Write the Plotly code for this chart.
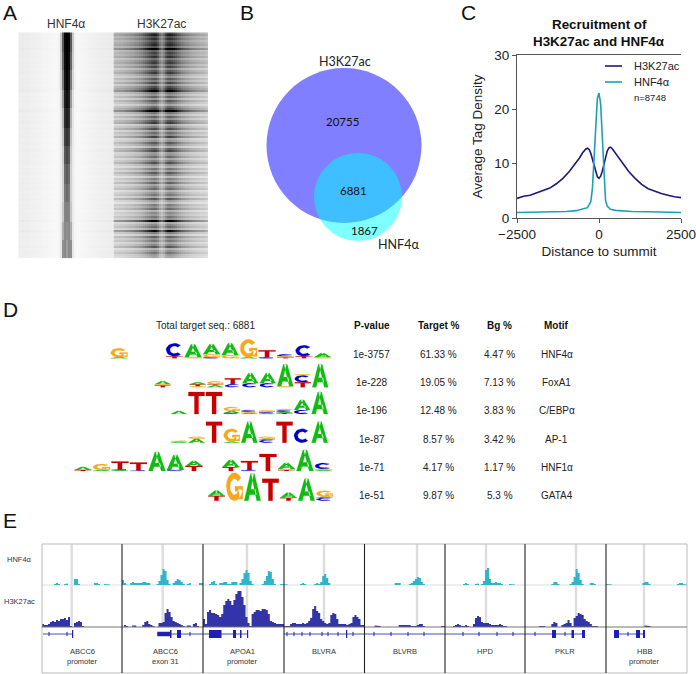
import math
import plotly.graph_objects as go

W, H = 696, 674
SANS = "Liberation Sans"

# ---------- A: heatmaps ----------
h3k_columns = [.19,.20,.20,.21,.21,.22,.23,.24,.25,.26,.27,.29,.30,.32,.34,.37,.40,.43,.46,.49,.51,.50,.44,.34,
               .29,.35,.44,.50,.51,.49,.46,.43,.39,.36,.33,.31,.29,.28,.26,.25,.24,.23,.22,.21,.20,.20,.19,.17]
row_levels = [1.3,1.5,1.25,1.4,1.2,1.35,1.45,1.2,1.75,1.15,1.3,1.2,1.4,1.05,1.25,1.35,1.1,1.3,.95,1.2,
              1.35,1.05,.9,1.2,1.0,1.3,.95,1.25,1.4,1.7,1.05,.9,1.15,.85,1.2,1.0,.8,1.1,1.3,1.8,1.05,.85,
              1.15,.9,1.2,1.35,.8,1.0,1.25,.85,1.1,.95,1.3,.8,.9,1.2,1.0,.75,1.15,1.3,.85,.9,1.1,.8,1.0,
              1.25,.9,.75,1.05,.85,1.2,.95,.7,1.0,.85,1.15,.8,.95,1.1,.75,.9,1.05,.8,1.2,.85,.7,1.0,.9,
              1.1,.75,.95,.85,1.05,.9,1.7,.8,.95,1.1,.85,1.6,1.0,.75,1.15,.9,1.05,.8,.95,1.2,.75,.9,1.05,.85,.8]
hnf_center_bands = [
    [.05,.22,.65,.97,1.0,.97,.65,.22,.05],
    [.05,.20,.60,.95,1.0,.95,.60,.20,.05],
    [.05,.16,.52,.92,.98,.92,.52,.16,.05],
    [.04,.12,.40,.88,.94,.88,.40,.12,.04],
    [.04,.10,.30,.82,.88,.82,.30,.10,.04],
    [.04,.09,.24,.74,.80,.74,.24,.09,.04],
    [.04,.08,.20,.66,.72,.66,.20,.08,.04],
    [.04,.08,.18,.58,.64,.58,.18,.08,.04],
    [.04,.08,.18,.52,.58,.52,.18,.08,.04],
    [.04,.08,.22,.48,.50,.48,.22,.08,.04],
    [.04,.09,.32,.46,.44,.46,.32,.09,.04],
    [.04,.10,.44,.46,.38,.46,.44,.10,.04],
]
hnf_side = [.07,.07,.07,.065,.065,.065,.06,.06,.055,.055,.05,.05,.045,.04,.04,.035,.035,.03,.03,.03]

# ---------- B: Venn ----------
venn_big = dict(cx=344, cy=145.5, r=77.5)
venn_small = dict(cx=358, cy=197, r=44)

# ---------- C: recruitment curves ----------
h3k_x = [-2500,-2300,-2100,-1900,-1700,-1500,-1300,-1100,-900,-800,-700,-600,-500,-400,-350,-300,-250,-200,-150,-100,-50,
         0,50,100,150,200,250,300,350,400,500,600,700,800,900,1100,1300,1500,1700,1900,2100,2300,2500]
h3k_y = [3.6,4.0,4.2,4.6,5.0,5.5,6.3,7.3,8.6,9.3,10.2,11.0,12.0,12.7,12.85,12.6,11.9,10.8,9.6,8.5,7.6,
         7.3,7.7,8.6,9.9,11.2,12.3,12.9,13.05,12.8,12.0,11.1,10.2,9.4,8.6,7.3,6.2,5.4,4.9,4.5,4.2,3.9,3.75]
hnf_x = [-2500,-2000,-1500,-1000,-700,-500,-350,-250,-200,-150,-100,-50,0,50,100,150,200,250,350,500,1000,1500,2000,2500]
hnf_y = [1.0,1.05,1.1,1.2,1.35,1.6,1.9,3.0,5.5,11,17.5,22,23,21,15,7.5,3.2,2.2,1.6,1.4,1.2,1.15,1.05,1.0]

# ---------- D: motif table and logos ----------
table_headers = ["P-value", "Target %", "Bg %", "Motif"]
p_values = ["1e-3757", "1e-228", "1e-196", "1e-87", "1e-71", "1e-51"]
target_pct = ["61.33 %", "19.05 %", "12.48 %", "8.57 %", "4.17 %", "9.87 %"]
bg_pct = ["4.47 %", "7.13 %", "3.83 %", "3.42 %", "1.17 %", "5.3 %"]
motifs = ["HNF4α", "FoxA1", "C/EBPα", "AP-1", "HNF1α", "GATA4"]

logo_hnf4 = [[("A",1),("G",9)],[],[],[("T",2),("C",13)],[("G",1),("A",13)],[("C",1),("G",3),("A",10)],
             [("G",3),("A",12)],[("A",1),("G",18)],[("C",1),("T",7)],[("T",1),("G",1),("C",2)],[("T",2),("C",11)],[("G",1),("A",4)]]
logo_foxa1 = [[("T",2),("G",1),("A",3)],[],[("G",1),("T",2),("A",2)],[("A",2),("T",1),("G",3)],[("C",3),("T",6)],
              [("C",4),("A",10)],[("C",4),("A",10)],[("G",1),("A",22)],[("T",5),("C",7),("G",1)],[("A",23)]]
logo_cebpa = [[("A",3)],[("T",22)],[("T",22)],[("C",1),("A",2),("G",4)],[("A",1),("G",1),("C",2)],[("A",1),("C",1),("G",2)],
              [("T",1),("A",1),("C",2),("G",1)],[("C",4),("A",10)],[("A",22)]]
logo_ap1 = [[("A",1),("G",1)],[("A",4),("G",2)],[("T",21)],[("A",1),("G",13)],[("A",21)],[("C",3),("A",1),("G",2)],
            [("T",21)],[("C",14)],[("A",21)]]
logo_hnf1 = [[("T",1),("A",3)],[("A",1),("G",6)],[("A",1),("C",.5),("T",8)],[("C",.5),("T",8)],[("A",19)],[("C",1),("A",15)],
             [("T",5),("A",5)],[],[("T",4),("A",7)],[("C",1),("T",9)],[("T",17)],[("T",1),("G",1),("A",6)],[("A",21)],[("A",1),("G",1),("C",6)]]
logo_gata4 = [[("T",5),("A",5)],[("G",28)],[("A",27)],[("T",22)],[("T",3),("A",5)],[("A",22)],[("C",3),("A",1),("G",6)]]
logos = [logo_hnf4, logo_foxa1, logo_cebpa, logo_ap1, logo_hnf1, logo_gata4]
logo_baselines = [358.3, 387.3, 414, 442.7, 471, 500.7]
logo_right_edges = [331.8, 329, 328.5, 328.5, 332.7, 333.5]
logo_steps = [18.5, 17.5, 17.6, 17.6, 18.5, 18.0]

# ---------- E: genome browser tracks ----------
panel_edges = [42, 122, 203, 284, 364.5, 445, 525, 606, 687]
panel_summits = [71.7, 162.7, 247, 324, 417, 486, 576, 644]
panel_labels = [["ABCC6","promoter"],["ABCC6","exon 31"],["APOA1","promoter"],["BLVRA"],["BLVRB"],["HPD"],["PKLR"],["HBB","promoter"]]
panel_label_x = [82.6, 165.7, 242.7, 324, 404.7, 485, 564.7, 644.7]

hnf_track = [
 [0,0,0,0,0,0,1,2,1,0,0,1,1.5,0,0,0,6,6,1,0,0,0,0,0,0,0,2,2,1,0,0,1,1,.5,0,0,0,0,0,0],
 [5,2,.5,0,2,3,2,2,2,2,3,3,2,2,0,0,0,1,4,10,16,14,5,1,0,2,4,6,5,3,1,0,1,2,0,0,0,0,2,2],
 [0,0,0,1,3,4,1,0,2,2,3,3,1,1,3,3,3,0,2,6,12,15,12,4,1,0,0,0,0,1,4,9,14,13,6,1,0,0,1,1],
 [.5,.5,0,0,0,0,0,0,1,2,1,0,0,0,0,1,2,1,3,9,11,7,2,0,0,0,0,0,0,0,0,0,0,0,0,0,0,0,0,0],
 [0,0,0,0,0,0,0,0,0,0,0,0,0,0,0,2,2,2,0,0,0,0,1,2,4,6,8,7,3,1,0,0,0,0,0,0,0,0,0,0],
 [.5,.5,.5,.5,0,0,0,0,0,1,2,1,0,0,0,1,1.5,0,1,4,15,17,6,2,2,3,2,2,1,0,0,0,1,.5,.5,0,0,0,0,0],
 [0,0,0,0,0,0,0,0,0,0,0,0,0,1,3,3,1,0,0,0,0,0,1,3,8,16,12,5,1,0,0,0,2,2,1,0,0,0,0,0],
 [1,1,.5,0,0,.5,.5,0,0,0,0,0,0,0,0,0,0,0,2,3,3,1,0,0,0,0,.5,.5,0,0,0,0,0,0,0,1,2,2,1,.5],
]
h3k_track = [
 [3,2,2,3,5,6,5,7,6,8,8,9,7,10,1,0,4,5,6,5,1,0,0,0,0,0,0,0,0,0,0,0,0,0,0,0,0,0,0,0],
 [0,2,1,0,0,1.5,1.5,0,0,0,2,5,6,3,2,1,0,0,4,4,5,14,18,15,10,6,5,4,3,2,1,0,1.5,1.5,0,3,4,1,0,0],
 [8,3,15,17,14,14,13,12,10,13,22,26,28,26,22,27,33,36,36,30,22,10,4,1,13,15,17,17,16,18,18,17,13,6,5,4,3,3,3,3],
 [1,1,1,3,4,4,3,3,3,4,3,4,6,9,18,21,16,14,8,6,4,3,4,12,14,13,8,3,3,3,3,2,3,4,10,12,10,8,2,2],
 [0,0,0,0,0,1.5,1.5,1,0,0,0,0,0,0,0,0,0,2,2,2,2,2,2,1,1,1,2,3,3,1,0,0,0,0,0,0,0,0,1,1],
 [0,0,0,0,1,2,3,2,1,1,2,1,0,0,3,9,11,10,5,4,4,4,3,2,2,2,2,3,2,1,1,0,0,0,0,0,0,0,0,0],
 [0,0,0,0,0,0,0,1,1,1,0,0,0,3,5,4,0,0,2,3,4,7,4,1,9,11,14,13,12,8,6,5,3,1,1,1,0,0,0,0],
 [.5,0,0,0,0,0,0,0,0,0,0,0,0,0,0,0,0,0,0,1.5,1.5,1,0,0,0,0,0,0,0,0,0,0,0,0,0,0,0,0,0,0],
]
gene_spans = [(43,72),(157,248),(284,585),(614,645)]
gene_exons_tall = [(72,73.2),(170,171.5),(177,181),(209,221.5),(233,236),(240,241.5),(247,248.2),(346,347.2),
                   (552,556),(571.5,574),(582,585),(614,619),(636,640),(643,645)]
gene_exons_mid = [(157.3,170)]
gene_ticks = [49,67,190,287,294,302,310,322,328,338,353,374,391,408,424,463,479,497,513,535,565,628]

# ---------- helpers ----------
def yd(top, bottom):
    return [1 - bottom / H, 1 - top / H]

def xd(left, right):
    return [left / W, right / W]

def ellipse_arc(a1, a2, rx, ry, n=18):
    return [(.5 + rx * math.cos(math.radians(a1 + (a2 - a1) * i / n)),
             .5 + ry * math.sin(math.radians(a1 + (a2 - a1) * i / n))) for i in range(n + 1)]

def ring(a1, a2):
    return ellipse_arc(a1, a2, .5, .5) + ellipse_arc(a2, a1, .27, .29)

GLYPHS = {
    "T": [[(0,1),(1,1),(1,.82),(.63,.82),(.63,0),(.37,0),(.37,.82),(0,.82)]],
    "A": [[(0,0),(.25,0),(.58,1),(.38,1)], [(1,0),(.75,0),(.42,1),(.62,1)], [(.25,.22),(.75,.22),(.68,.42),(.32,.42)]],
    "C": [ring(45, 315)],
    "G": [ring(40, 345), [(.53,.52),(1,.52),(1,.05),(.78,.05),(.78,.34),(.53,.34)]],
}
LETTER_COLORS = {"A": "#12BB12", "C": "#0000C8", "G": "#F5A81C", "T": "#C80000"}

fig = go.Figure()

# ---------- A traces ----------
n_rows = len(row_levels)
z_hnf, z_h3k = [], []
for r, level in enumerate(row_levels):
    band = hnf_center_bands[r * len(hnf_center_bands) // n_rows]
    soft = 1 + (level - 1) * .3
    side = hnf_side + [.03] * 8 + hnf_side[::-1]
    row = [v * soft for v in side]
    for k, v in enumerate(band):
        row[20 + k] = v
    z_hnf.append(row)
    strong = 1 + (level - 1) * 1.5
    z_h3k.append([min(1, c * strong) for c in h3k_columns])

gray_scale = [[0, "#ffffff"], [1, "#000000"]]
fig.add_trace(go.Heatmap(z=z_hnf, colorscale=gray_scale, zmin=0, zmax=1, showscale=False,
                         xaxis="x", yaxis="y", name="HNF4α", hoverinfo="skip"))
fig.add_trace(go.Heatmap(z=z_h3k, colorscale=gray_scale, zmin=0, zmax=1, showscale=False,
                         xaxis="x2", yaxis="y2", name="H3K27ac", hoverinfo="skip"))

# ---------- C traces ----------
fig.add_trace(go.Scatter(x=h3k_x, y=h3k_y, mode="lines", line=dict(color="#1B1B78", width=1.6),
                         name="H3K27ac", xaxis="x3", yaxis="y3", showlegend=False))
fig.add_trace(go.Scatter(x=hnf_x, y=hnf_y, mode="lines", line=dict(color="#1E9FB4", width=1.6),
                         name="HNF4α", xaxis="x3", yaxis="y3", showlegend=False))

# ---------- D logo traces ----------
paths = {k: ([], []) for k in GLYPHS}
for columns, base, right, step in zip(logos, logo_baselines, logo_right_edges, logo_steps):
    for i, stack in enumerate(columns):
        left = right - step * (len(columns) - i)
        y0 = base
        for letter, height in stack:
            for poly in GLYPHS[letter]:
                for px, py in poly + poly[:1]:
                    paths[letter][0].append(left + (.04 + px * .92) * step)
                    paths[letter][1].append(y0 - py * height)
                paths[letter][0].append(None)
                paths[letter][1].append(None)
            y0 -= height
for letter, (xs, ys) in paths.items():
    fig.add_trace(go.Scatter(x=xs, y=ys, mode="lines", fill="toself", fillcolor=LETTER_COLORS[letter],
                             line=dict(width=0.2, color=LETTER_COLORS[letter]), xaxis="x4", yaxis="y4",
                             name=letter, hoverinfo="skip", showlegend=False))

# ---------- E track traces ----------
def track_trace(tracks, yaxis, color, name):
    xs, ys = [], []
    for p, vals in enumerate(tracks):
        left, right = panel_edges[p], panel_edges[p + 1]
        step = (right - left) / len(vals)
        for i, v in enumerate(vals):
            xs += [left + i * step, left + (i + 1) * step]
            ys += [v, v]
    return go.Scatter(x=xs, y=ys, mode="lines", fill="tozeroy", fillcolor=color, line=dict(width=0, color=color),
                      xaxis="x5", yaxis=yaxis, name=name, hoverinfo="skip", showlegend=False)

fig.add_trace(track_trace(hnf_track, "y5", "#2FB4C8", "HNF4α track"))
fig.add_trace(track_trace(h3k_track, "y6", "#3333AA", "H3K27ac track"))

GENE_Y = 634
GENE_COLOR = "#1F1FB0"
def seg_trace(spans, width, name):
    xs, ys = [], []
    for a, b in spans:
        xs += [a, b, None]
        ys += [GENE_Y, GENE_Y, None]
    return go.Scatter(x=xs, y=ys, mode="lines", line=dict(color=GENE_COLOR, width=width), xaxis="x4", yaxis="y4",
                      name=name, hoverinfo="skip", showlegend=False)
fig.add_trace(seg_trace(gene_spans, 0.8, "gene"))
fig.add_trace(seg_trace(gene_exons_mid, 4.5, "UTR"))
fig.add_trace(seg_trace(gene_exons_tall, 8, "exon"))
fig.add_trace(go.Scatter(x=gene_ticks, y=[GENE_Y] * len(gene_ticks), mode="markers",
                         marker=dict(symbol="line-ns", size=3, line=dict(width=1, color=GENE_COLOR)),
                         xaxis="x4", yaxis="y4", name="strand", hoverinfo="skip", showlegend=False))

# ---------- layout ----------
hidden = dict(visible=False, fixedrange=True, automargin=False)
layout = dict(
    width=W, height=H, autosize=False, margin=dict(l=0, r=0, t=0, b=0, pad=0), template="none",
    paper_bgcolor="white", plot_bgcolor="rgba(0,0,0,0)", showlegend=False,
    font=dict(family=SANS, color="#222222"),
    xaxis=dict(domain=xd(18.3, 113.3), **hidden),
    yaxis=dict(domain=yd(32.3, 258.3), autorange="reversed", **hidden),
    xaxis2=dict(domain=xd(113.3, 208), **hidden),
    yaxis2=dict(domain=yd(32.3, 258.3), autorange="reversed", **hidden),
    xaxis3=dict(domain=xd(517, 681), range=[-2500, 2500], tickvals=[-2500, 0, 2500], ticks="outside", ticklen=4,
                tickcolor="#555", linecolor="#555", linewidth=1, mirror=True, showgrid=False, zeroline=False,
                tickfont=dict(size=13.5, family=SANS, color="#222"), fixedrange=True, automargin=False, anchor="y3",
                ticklabeloverflow="allow",
                title=dict(text="Distance to summit", standoff=5, font=dict(size=13.5, family=SANS, color="#222"))),
    yaxis3=dict(domain=yd(55, 218), range=[0, 30], tickvals=[0, 10, 20, 30], ticks="outside", ticklen=4,
                tickcolor="#555", linecolor="#555", linewidth=1, showgrid=False, zeroline=False,
                tickfont=dict(size=13.5, family=SANS, color="#222"), fixedrange=True, anchor="x3", automargin=False,
                title=dict(text="Average Tag Density", standoff=8, font=dict(size=13.5, family=SANS, color="#222"))),
    xaxis4=dict(domain=[0, 1], range=[0, W], anchor="y4", **hidden),
    yaxis4=dict(domain=[0, 1], range=[H, 0], anchor="x4", **hidden),
    xaxis5=dict(domain=xd(42, 687), range=[42, 687], anchor="y5", **hidden),
    yaxis5=dict(domain=yd(544, 585), range=[0, 41], anchor="x5", **hidden),
    yaxis6=dict(domain=yd(585, 627), range=[0, 42], anchor="x5", **hidden),
)

shapes = []
def circle(c, color):
    shapes.append(dict(type="circle", xref="x4", yref="y4", x0=c["cx"] - c["r"], x1=c["cx"] + c["r"],
                       y0=c["cy"] - c["r"], y1=c["cy"] + c["r"], fillcolor=color, line=dict(width=0), layer="below"))
circle(venn_big, "rgba(0,0,255,0.5)")
circle(venn_small, "rgba(0,255,255,0.5)")

def pline(x0, y0, x1, y1, color, width, layer="above"):
    shapes.append(dict(type="line", xref="x4", yref="y4", x0=x0, y0=y0, x1=x1, y1=y1,
                       line=dict(color=color, width=width), layer=layer))

# legend keys for panel C
pline(605, 66, 622, 66, "#1B1B78", 1.6)
pline(605, 82, 622, 82, "#1E9FB4", 1.6)

# browser frame
for x in panel_summits:
    pline(x, 544, x, 627, "#DDDDDD", 2.4, "below")
pline(42, 585, 687, 585, "#DDDDDD", 1, "below")
pline(42, 544, 687, 544, "#BBBBBB", 1)
pline(42, 673, 687, 673, "#BBBBBB", 1)
pline(42, 544, 42, 673, "#BBBBBB", 1)
pline(687, 544, 687, 673, "#BBBBBB", 1)
pline(42, 627, 687, 627, "#777777", 1.2)
for x in panel_edges[1:-1]:
    pline(x, 544, x, 673, "#222222", 1.1)
layout["shapes"] = shapes

ann = []
def text(x, y, s, size=10, color="#222222", family=SANS, anchor="center", angle=0, bold=False):
    ann.append(dict(xref="paper", yref="paper", x=x / W, y=1 - y / H, text=f"<b>{s}</b>" if bold else s,
                    showarrow=False, xanchor=anchor, yanchor="middle", textangle=angle,
                    font=dict(size=size, color=color, family=family), align="center"))

for x, y, s in [(1, 12.5, "A"), (238, 12.5, "B"), (459, 12.5, "C"), (1, 309, "D"), (1, 520, "E")]:
    text(x, y, s, size=21, color="#111111", anchor="left")
text(66, 24, "HNF4α", 12, "#333333")
text(161, 24, "H3K27ac", 12, "#333333")

VENN_FONT = "Lato"
text(345, 62, "H3K27ac", 12.5, "#222", VENN_FONT)
text(342, 121, "20755", 11.5, "#111", VENN_FONT)
text(353, 190, "6881", 11.5, "#111", VENN_FONT)
text(364, 230, "1867", 11.5, "#111", VENN_FONT)
text(398, 245, "HNF4α", 12.5, "#222", VENN_FONT)

text(599, 24, "Recruitment of", 13.4, "#111", bold=True)
text(599, 41, "H3K27ac and HNF4α", 13.4, "#111", bold=True)
text(632, 66, "H3K27ac", 11, "#222", anchor="left")
text(632, 82, "HNF4α", 11, "#222", anchor="left")
text(632, 97, "n=8748", 9.5, "#222", anchor="left")

text(205.3, 325, "Total target seq.: 6881", 10)
col_x = [372, 438.7, 500, 556.7]
for x, h in zip(col_x, table_headers):
    text(x, 325.7, h, 10, "#111", bold=True)
row_y = [354, 382.3, 410.7, 439, 467.3, 495.7]
for col, x in zip([p_values, target_pct, bg_pct, motifs], col_x):
    for y, s in zip(row_y, col):
        text(x, y, s, 10, "#222")

text(19.5, 559.7, "HNF4α", 7.5, "#333")
text(19, 601.7, "H3K27ac", 7.5, "#333")
for x, lines in zip(panel_label_x, panel_labels):
    for y, s in zip([651, 661], lines):
        text(x, y, s, 7.5, "#333")
layout["annotations"] = ann

fig.update_layout(**layout)
fig.write_html("out.html", config={"displayModeBar": False}, post_script="document.body.style.margin='0';")
